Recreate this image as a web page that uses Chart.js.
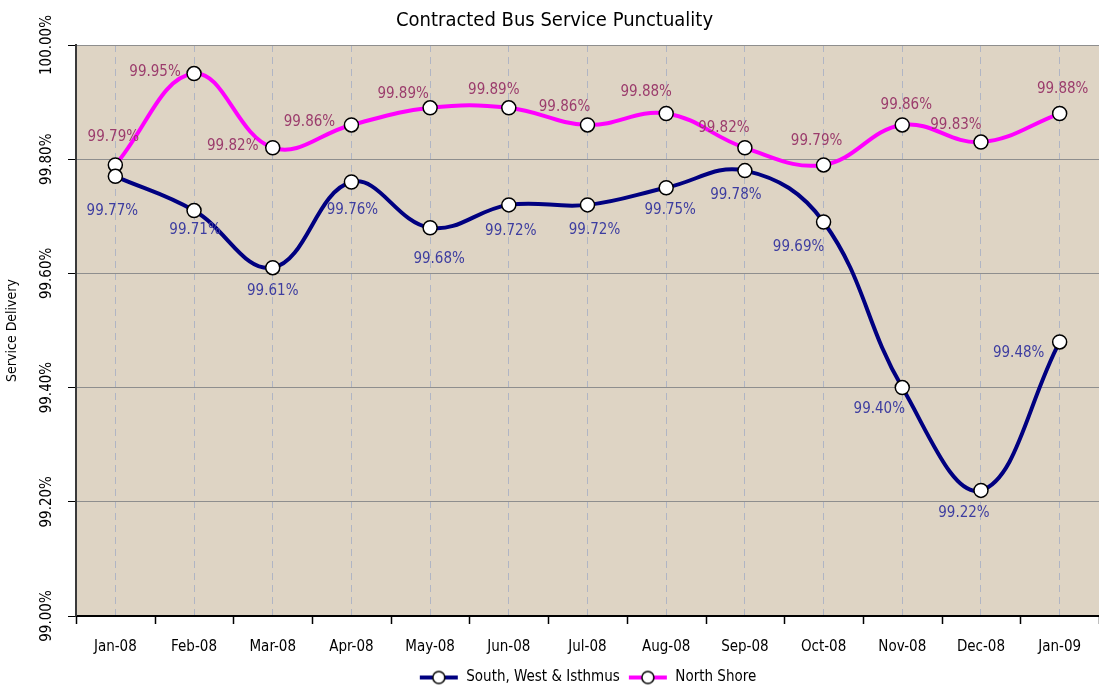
<!DOCTYPE html>
<html>
<head>
<meta charset="utf-8">
<script src="https://cdn.jsdelivr.net/npm/chart.js@4.4.1/dist/chart.umd.min.js"></script>
<style>
  html, body { margin: 0; padding: 0; background: #fff; }
  #wrap { width: 1099px; height: 686px; }
</style>
</head>
<body>
<div id="wrap"><canvas id="punctualityChart" width="1099" height="686"></canvas></div>
<script>
// month labels along the bottom
const months = ['Jan-08', 'Feb-08', 'Mar-08', 'Apr-08', 'May-08', 'Jun-08', 'Jul-08',
                'Aug-08', 'Sep-08', 'Oct-08', 'Nov-08', 'Dec-08', 'Jan-09'];
// service delivery in percent
const southWest = [99.77, 99.71, 99.61, 99.76, 99.68, 99.72, 99.72, 99.75, 99.78, 99.69, 99.40, 99.22, 99.48];
const northShore = [99.79, 99.95, 99.82, 99.86, 99.89, 99.89, 99.86, 99.88, 99.82, 99.79, 99.86, 99.83, 99.88];
const yMin = 99.0;
const yMax = 100.0;
const yStep = 0.2;

const FONT = "'Liberation Sans Narrow', 'DejaVu Sans Condensed', sans-serif";

// label placement relative to each point (like Excel's manual nudges)
const labelNudge = {
    0: { dx: [-3, 1, 0, 1, 9, 2, 7, 4, -9, -25, -23, -17, -41], dy: [35, 20, 23, 28, 31, 26, 25, 22, 24, 25, 22, 23, 11], color: '#3d3da0' },
    1: { dx: [-2, -39, -40, -42, -27, -15, -23, -20, -21, -7, 4, -25, 3], dy: [-28, -1, -2, -3, -14, -18, -18, -21, -20, -24, -20, -17, -24], color: '#9b3c6c' }
};

function legendGlyph(color) {
    const c = document.createElement('canvas');
    c.width = 40; c.height = 16;
    const g = c.getContext('2d');
    g.strokeStyle = color;
    g.lineWidth = 4;
    g.beginPath(); g.moveTo(1, 8); g.lineTo(39, 8); g.stroke();
    g.fillStyle = '#fff';
    g.strokeStyle = '#000';
    g.lineWidth = 1.5;
    g.beginPath(); g.arc(20, 8, 6, 0, Math.PI * 2); g.fill(); g.stroke();
    return c;
}

const plotBackground = {
    id: 'plotBackground',
    beforeDraw(chart) {
        const { ctx, chartArea: a } = chart;
        ctx.save();
        ctx.fillStyle = '#ded4c4';
        ctx.fillRect(a.left, a.top, a.right - a.left, a.bottom - a.top);
        ctx.restore();
    },
    afterDraw(chart) {
        const { ctx } = chart;
        const x = chart.scales.x;
        const y = chart.scales.y;
        // tick marks between the months, under the x axis
        const n = months.length;
        const w = (x.right - x.left) / n;
        ctx.save();
        ctx.strokeStyle = '#000';
        ctx.lineWidth = 1.5;
        for (let i = 0; i <= n; i++) {
            const px = Math.round(x.left + i * w) + 0.5;
            ctx.beginPath();
            ctx.moveTo(px, x.top);
            ctx.lineTo(px, x.top + 8);
            ctx.stroke();
        }
        // y tick labels, turned on their side and centred on the gridline
        ctx.font = '15px ' + FONT;
        ctx.fillStyle = '#000';
        ctx.textAlign = 'center';
        ctx.textBaseline = 'middle';
        y.ticks.forEach(t => {
            const py = y.getPixelForValue(t.value);
            ctx.save();
            ctx.translate(47, py);
            ctx.rotate(-Math.PI / 2);
            ctx.fillText(t.value.toFixed(2) + '%', 0, 0);
            ctx.restore();
        });
        ctx.restore();
    }
};

const valueLabels = {
    id: 'valueLabels',
    afterDatasetsDraw(chart) {
        const { ctx } = chart;
        ctx.save();
        ctx.font = '15px ' + FONT;
        ctx.textAlign = 'center';
        ctx.textBaseline = 'middle';
        chart.data.datasets.forEach((ds, di) => {
            const meta = chart.getDatasetMeta(di);
            const nudge = labelNudge[di];
            ctx.fillStyle = nudge.color;
            meta.data.forEach((pt, i) => {
                ctx.fillText(ds.data[i].toFixed(2) + '%', pt.x + nudge.dx[i], pt.y + nudge.dy[i]);
            });
        });
        ctx.restore();
    }
};

const ctx = document.getElementById('punctualityChart').getContext('2d');
const punctualityChart = new Chart(ctx, {
    type: 'line',
    data: {
        labels: months,
        datasets: [{
            label: 'South, West & Isthmus',
            data: southWest,
            borderColor: '#000080',
            borderWidth: 4,
            tension: 0.4,
            pointRadius: 7,
            pointBackgroundColor: '#fff',
            pointBorderColor: '#000',
            pointBorderWidth: 1.5,
            legendGlyph: legendGlyph('#000080')
        }, {
            label: 'North Shore',
            data: northShore,
            borderColor: '#ff00ff',
            borderWidth: 4,
            tension: 0.4,
            pointRadius: 7,
            pointBackgroundColor: '#fff',
            pointBorderColor: '#000',
            pointBorderWidth: 1.5,
            legendGlyph: legendGlyph('#ff00ff')
        }]
    },
    options: {
        responsive: false,
        animation: false,
        layout: { autoPadding: false, padding: { left: 4, right: -6, top: 0, bottom: -9 } },
        plugins: {
            title: {
                display: true,
                text: 'Contracted Bus Service Punctuality',
                color: '#000',
                font: { family: FONT, size: 20, weight: 'normal' },
                padding: { top: 9, bottom: 12 }
            },
            legend: {
                display: true,
                position: 'bottom',
                fullSize: false,
                labels: {
                    color: '#000',
                    font: { family: FONT, size: 15 },
                    usePointStyle: true,
                    pointStyleWidth: 40,
                    boxHeight: 15,
                    padding: 8,
                    generateLabels(chart) {
                        return chart.data.datasets.map((ds, i) => ({
                            text: ds.label,
                            pointStyle: ds.legendGlyph,
                            fillStyle: ds.borderColor,
                            strokeStyle: ds.borderColor,
                            lineWidth: 0,
                            hidden: false,
                            datasetIndex: i
                        }));
                    }
                }
            },
            tooltip: { enabled: false }
        },
        scales: {
            x: {
                offset: true,
                grid: {
                    offset: false,
                    drawTicks: true,
                    tickLength: 20,
                    tickColor: 'rgba(0,0,0,0)',
                    color: '#b0b5c4',
                    lineWidth: 1
                },
                border: { display: true, color: '#000', width: 2, dash: [7, 5] },
                ticks: {
                    color: '#000',
                    font: { family: FONT, size: 15 },
                    padding: 2,
                    maxRotation: 0,
                    autoSkip: false
                },
                afterFit(scale) {
                    scale.height += 4;
                    scale.paddingLeft = 0;
                    scale.paddingRight = 0;
                }
            },
            y: {
                min: yMin,
                max: yMax,
                title: {
                    display: true,
                    text: 'Service Delivery',
                    color: '#000',
                    font: { family: FONT, size: 14 },
                    padding: { top: 0, bottom: 4 }
                },
                grid: {
                    color: '#8e8e8e',
                    lineWidth: 1,
                    tickLength: 8,
                    tickColor: '#000'
                },
                border: { display: true, color: '#3a3a3a', width: 2 },
                ticks: {
                    stepSize: yStep,
                    color: 'rgba(0,0,0,0)',
                    font: { family: FONT, size: 15 },
                    padding: 4,
                    callback: v => v.toFixed(2) + '%'
                },
                afterFit(scale) {
                    scale.width = 72;
                    scale.paddingRight = 0;
                }
            }
        }
    },
    plugins: [plotBackground, valueLabels]
});
</script>
</body>
</html>
